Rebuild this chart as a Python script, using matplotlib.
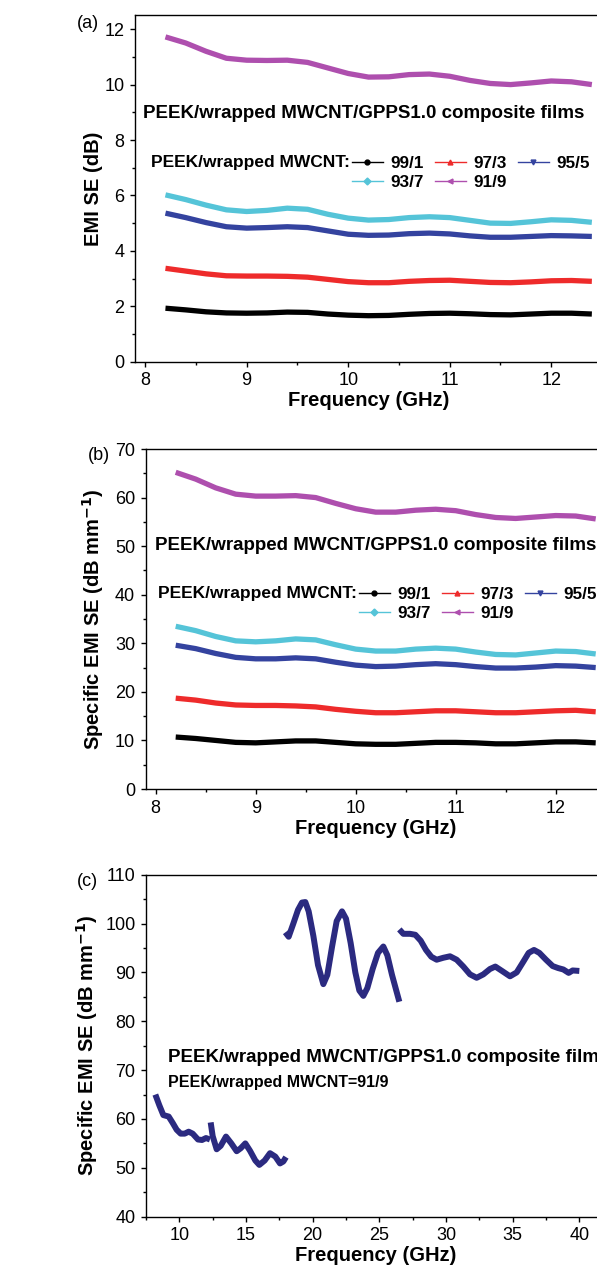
import matplotlib
matplotlib.use('Agg')
import matplotlib.pyplot as plt
from matplotlib.lines import Line2D
from matplotlib.ticker import MultipleLocator

plt.rcParams['font.family'] = ['Liberation Sans', 'DejaVu Sans']

# Dane - panel (a) a (b): X pasmo
freq = [8.2, 8.4, 8.6, 8.8, 9.0, 9.2, 9.4, 9.6, 9.8, 10.0, 10.2,
        10.4, 10.6, 10.8, 11.0, 11.2, 11.4, 11.6, 11.8, 12.0, 12.2, 12.4]
ratios = ['99/1', '97/3', '95/5', '93/7', '91/9']
colors = ['#000000', '#ee2b2b', '#34439f', '#55c4d8', '#ae4fae']
markers = ['o', '^', 'v', 'D', '<']

# EMI SE (dB)
se_99_1 = [1.93, 1.87, 1.80, 1.76, 1.75, 1.76, 1.79, 1.78, 1.72, 1.68, 1.66,
           1.67, 1.71, 1.74, 1.75, 1.73, 1.70, 1.69, 1.72, 1.75, 1.75, 1.72]
se_97_3 = [3.37, 3.27, 3.17, 3.10, 3.09, 3.09, 3.08, 3.05, 2.97, 2.89, 2.85,
           2.85, 2.90, 2.93, 2.94, 2.90, 2.86, 2.85, 2.88, 2.92, 2.93, 2.90]
se_95_5 = [5.36, 5.20, 5.02, 4.87, 4.82, 4.84, 4.87, 4.84, 4.72, 4.60, 4.56,
           4.57, 4.62, 4.64, 4.61, 4.54, 4.49, 4.49, 4.52, 4.55, 4.54, 4.52]
se_93_7 = [6.02, 5.85, 5.65, 5.48, 5.42, 5.46, 5.54, 5.50, 5.32, 5.18, 5.11,
           5.13, 5.20, 5.23, 5.20, 5.10, 5.00, 4.99, 5.05, 5.12, 5.10, 5.03]
se_91_9 = [11.72, 11.50, 11.20, 10.95, 10.88, 10.87, 10.88, 10.80, 10.60, 10.40, 10.27,
           10.28, 10.36, 10.38, 10.30, 10.15, 10.04, 10.00, 10.06, 10.13, 10.10, 10.00]

# Specific EMI SE (dB mm-1)
sse_99_1 = [10.7, 10.4, 10.0, 9.6, 9.5, 9.7, 9.9, 9.9, 9.6, 9.3, 9.2,
            9.2, 9.4, 9.6, 9.6, 9.5, 9.3, 9.3, 9.5, 9.7, 9.7, 9.5]
sse_97_3 = [18.7, 18.3, 17.7, 17.3, 17.2, 17.2, 17.1, 16.9, 16.4, 16.0, 15.7,
            15.7, 15.9, 16.1, 16.1, 15.9, 15.7, 15.7, 15.9, 16.1, 16.2, 15.9]
sse_95_5 = [29.6, 28.9, 27.9, 27.1, 26.8, 26.8, 27.0, 26.8, 26.1, 25.5, 25.2,
            25.3, 25.6, 25.8, 25.6, 25.2, 24.9, 24.9, 25.1, 25.4, 25.3, 25.0]
sse_93_7 = [33.5, 32.6, 31.4, 30.5, 30.3, 30.5, 30.9, 30.7, 29.7, 28.8, 28.4,
            28.4, 28.8, 29.0, 28.8, 28.2, 27.7, 27.6, 28.0, 28.4, 28.3, 27.8]
sse_91_9 = [65.2, 63.8, 62.0, 60.7, 60.3, 60.3, 60.4, 60.0, 58.8, 57.7, 57.0,
            57.0, 57.4, 57.6, 57.3, 56.5, 55.9, 55.7, 56.0, 56.3, 56.2, 55.6]

# Panel (c): 91/9 w pasmach X, Ku, K, Ka
f_x = [8.2, 8.5, 8.8, 9.2, 9.5, 9.8, 10.1, 10.4, 10.7, 11.0, 11.4, 11.7, 12.0, 12.3]
v_x = [65.0, 62.8, 60.8, 60.5, 59.2, 57.8, 57.0, 57.0, 57.4, 57.0, 55.8, 55.7, 56.1, 55.8]
f_ku = [12.35, 12.5, 12.8, 13.1, 13.5, 13.9, 14.3, 14.6, 14.95, 15.3, 15.7, 16.0,
        16.4, 16.8, 17.2, 17.55, 17.8, 18.0]
v_ku = [59.3, 56.5, 53.8, 54.5, 56.4, 55.0, 53.4, 54.0, 55.0, 53.5, 51.5, 50.6,
        51.5, 53.0, 52.3, 50.9, 51.3, 52.2]
f_k = [17.95, 18.2, 18.55, 18.9, 19.2, 19.45, 19.7, 20.05, 20.4, 20.8, 21.1, 21.45,
       21.8, 22.2, 22.5, 22.85, 23.2, 23.5, 23.8, 24.1, 24.5, 24.9, 25.3, 25.6,
       25.95, 26.25, 26.5]
v_k = [98.2, 97.3, 100.0, 102.8, 104.3, 104.4, 102.5, 97.5, 91.5, 87.6, 89.5, 95.2,
       100.5, 102.5, 101.0, 96.0, 90.0, 86.3, 85.2, 86.8, 90.7, 94.0, 95.3, 93.5,
       89.5, 86.5, 84.0]
f_ka = [26.5, 26.8, 27.3, 27.7, 28.1, 28.5, 28.9, 29.3, 29.8, 30.3, 30.8, 31.3,
        31.8, 32.3, 32.8, 33.3, 33.7, 34.2, 34.8, 35.3, 35.8, 36.2, 36.6, 37.0,
        37.5, 38.0, 38.4, 38.8, 39.2, 39.5, 40.0]
v_ka = [98.8, 97.9, 97.9, 97.7, 96.5, 94.6, 93.2, 92.6, 93.0, 93.3, 92.6, 91.2,
        89.6, 88.9, 89.6, 90.7, 91.2, 90.3, 89.2, 90.0, 92.2, 94.0, 94.6, 94.0,
        92.6, 91.3, 90.9, 90.6, 89.9, 90.4, 90.3]

W, H = 597, 1267


def fx(px):
    return px / W


def fy(py):
    return 1 - py / H


def style_axes(ax, xmaj, xmin, ymaj, ymin):
    ax.xaxis.set_major_locator(MultipleLocator(xmaj))
    ax.xaxis.set_minor_locator(MultipleLocator(xmin))
    ax.yaxis.set_major_locator(MultipleLocator(ymaj))
    ax.yaxis.set_minor_locator(MultipleLocator(ymin))
    ax.tick_params(which='both', direction='out', top=False, right=False,
                   labelsize=13, width=1, pad=4)
    ax.tick_params(which='major', length=3.6)
    ax.tick_params(which='minor', length=2.2)
    for s in ax.spines.values():
        s.set_linewidth(1.0)


fig = plt.figure(figsize=(W / 100, H / 100), dpi=100)

ax1 = fig.add_axes([fx(135), fy(361.7), 467 / W, 346.4 / H])
ax2 = fig.add_axes([fx(145.7), fy(789), 460 / W, 340 / H])
ax3 = fig.add_axes([fx(146), fy(1216.7), 460 / W, 342 / H])

series_a = [se_99_1, se_97_3, se_95_5, se_93_7, se_91_9]
series_b = [sse_99_1, sse_97_3, sse_95_5, sse_93_7, sse_91_9]

for ax, series in [(ax1, series_a), (ax2, series_b)]:
    for vals, c in zip(series, colors):
        ax.plot(freq, vals, color=c, lw=3.8, solid_capstyle='butt')
    ax.set_xlim(7.9, 12.5)
    ax.set_xlabel('Frequency (GHz)', fontsize=14.5, fontweight='bold', labelpad=1.5)

# (a)
ax1.set_ylim(0, 12.5)
style_axes(ax1, 1, 0.5, 2, 1)
ax1.set_ylabel('EMI SE (dB)', fontsize=14.5, fontweight='bold')
ax1.yaxis.set_label_coords(-0.068, 0.5)

# (b)
ax2.set_ylim(0, 70)
style_axes(ax2, 1, 0.5, 10, 5)
ax2.set_ylabel('Specific EMI SE (dB mm$^{\\mathbf{-1}}$)', fontsize=14.5, fontweight='bold')
ax2.yaxis.set_label_coords(-0.086, 0.5)

# (c)
navy = '#2b2a80'
for f, v in [(f_x, v_x), (f_ku, v_ku), (f_k, v_k), (f_ka, v_ka)]:
    ax3.plot(f, v, color=navy, lw=4.3, solid_capstyle='butt')
ax3.set_xlim(7.5, 42)
ax3.set_ylim(40, 110)
style_axes(ax3, 5, 2.5, 10, 5)
ax3.set_xlabel('Frequency (GHz)', fontsize=14.5, fontweight='bold', labelpad=1.5)
ax3.set_ylabel('Specific EMI SE (dB mm$^{\\mathbf{-1}}$)', fontsize=14.5, fontweight='bold')
ax3.yaxis.set_label_coords(-0.1, 0.5)

# popisky panelů
fig.text(fx(77), fy(23), '(a)', fontsize=13, va='center', ha='left')
fig.text(fx(88), fy(455), '(b)', fontsize=13, va='center', ha='left')
fig.text(fx(77), fy(881), '(c)', fontsize=13, va='center', ha='left')

title = 'PEEK/wrapped MWCNT/GPPS1.0 composite films'
fig.text(fx(143), fy(113), title, fontsize=13.5, fontweight='bold', va='center', ha='left')
fig.text(fx(155), fy(546), title, fontsize=13.5, fontweight='bold', va='center', ha='left')
fig.text(fx(168), fy(1058), title, fontsize=13.5, fontweight='bold', va='center', ha='left')
fig.text(fx(168), fy(1082), 'PEEK/wrapped MWCNT=91/9', fontsize=11.5, fontweight='bold',
         va='center', ha='left')

# legendy (řádkově: pořadí pro ncol=3)
handles = [Line2D([0], [0], color=c, lw=1, marker=m, markersize=3.5) for c, m in zip(colors, markers)]
order = [0, 3, 1, 4, 2]
for lx, ly, tx in [(352, 173, 350), (359, 604, 357)]:
    fig.text(fx(tx), fy(ly - 10.5), 'PEEK/wrapped MWCNT:', fontsize=12.5, fontweight='bold',
             va='center', ha='right')
    fig.legend([handles[i] for i in order], [ratios[i] for i in order], ncol=3,
               loc='center left', bbox_to_anchor=(fx(lx), fy(ly)), frameon=False,
               prop={'size': 12.3, 'weight': 'bold'}, borderpad=0, borderaxespad=0,
               handlelength=1.8, handletextpad=0.45, columnspacing=0.65, labelspacing=0.25)

plt.savefig('out.png', dpi=100)
